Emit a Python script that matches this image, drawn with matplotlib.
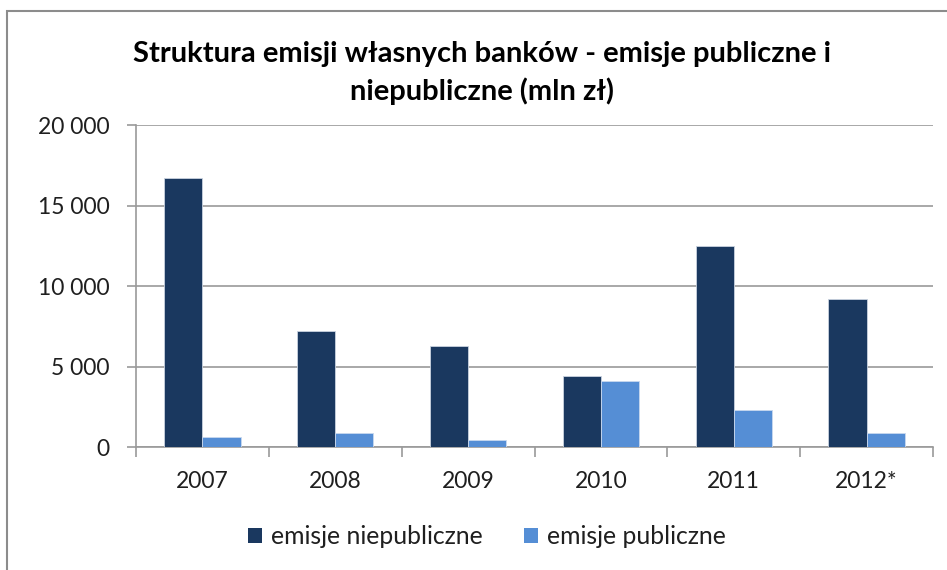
import matplotlib
matplotlib.use("Agg")
import matplotlib.pyplot as plt
from matplotlib.patches import Rectangle, Patch
from matplotlib.ticker import FuncFormatter, FixedLocator
import numpy as np

plt.rcParams['font.family'] = ['Lato', 'DejaVu Sans']

years = ["2007", "2008", "2009", "2010", "2011", "2012*"]
niepubliczne = [16700, 7200, 6270, 4410, 12480, 9210]
publiczne = [660, 900, 430, 4100, 2330, 900]
series_labels = ["emisje niepubliczne", "emisje publiczne"]
title = "Struktura emisji własnych banków - emisje publiczne i\nniepubliczne (mln zł)"

c_navy = "#1A385F"
c_blue = "#558ED5"
grid_c = "#9A9A9A"

W, H = 947, 570
fig = plt.figure(figsize=(W / 100, H / 100), dpi=100)
ax = fig.add_axes([136 / W, 1 - 447.3 / H, (933 - 136) / W, (447.3 - 125) / H])

x = np.arange(len(years))
bw = 0.287
ax.bar(x - bw / 2, niepubliczne, bw, color=c_navy, edgecolor="#C9D3E0", linewidth=0.6, zorder=3)
ax.bar(x + bw / 2, publiczne, bw, color=c_blue, edgecolor="#C9D8EE", linewidth=0.6, zorder=3)

ax.set_xlim(-0.5, len(years) - 0.5)
ax.set_ylim(0, 20000)
ax.set_yticks([0, 5000, 10000, 15000, 20000])
ax.yaxis.set_major_formatter(FuncFormatter(lambda v, p: f"{int(v):,}".replace(",", " ")))
ax.yaxis.grid(True, color=grid_c, linewidth=1.2, zorder=0)
ax.set_axisbelow(True)

ax.set_xticks(x)
ax.set_xticklabels(years)
ax.xaxis.set_minor_locator(FixedLocator(np.arange(-0.5, len(years), 1.0)))
ax.tick_params(axis='x', which='major', length=0, pad=17, labelsize=16.5, colors="#1F1F1F")
ax.tick_params(axis='x', which='minor', length=7, width=1.2, color=grid_c, direction='out')
ax.tick_params(axis='y', which='major', length=6.5, width=1.2, color=grid_c, direction='out',
               pad=12.5, labelsize=16.5, labelcolor="#1F1F1F")

for s in ['top', 'right']:
    ax.spines[s].set_visible(False)
for s in ['left', 'bottom']:
    ax.spines[s].set_color(grid_c)
    ax.spines[s].set_linewidth(1.2)

fig.text(482 / W, 1 - 73 / H, title, ha='center', va='center', fontsize=21,
         fontweight='bold', linespacing=1.45, color="#000000")

handles = [Patch(facecolor=c_navy, edgecolor='none'), Patch(facecolor=c_blue, edgecolor='none')]
fig.legend(handles, series_labels, loc='center', bbox_to_anchor=(487 / W, 1 - 537 / H),
           ncol=2, frameon=False, fontsize=17.8, handlelength=0.55, handleheight=0.55,
           handletextpad=0.35, columnspacing=1.7, labelcolor="#1F1F1F")

# outer chart border (left and top edges visible)
fig.add_artist(Rectangle((7 / W, -0.05), 1.2, 1 - 11 / H + 0.05, transform=fig.transFigure,
                         fill=False, edgecolor="#8C8C8C", linewidth=1.5))

fig.savefig("out.png", dpi=100)
